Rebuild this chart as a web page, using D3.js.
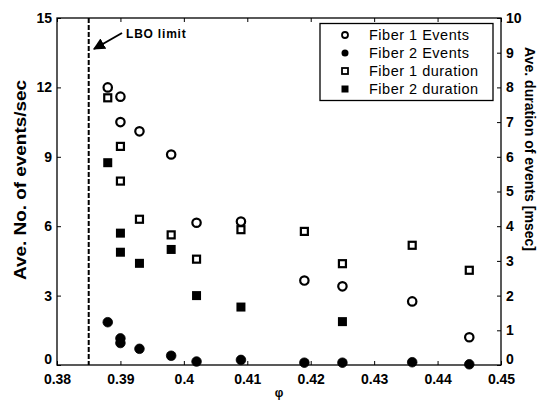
<!DOCTYPE html>
<html><head><meta charset="utf-8">
<script src="https://cdn.jsdelivr.net/npm/d3@7"></script>
<style>body{margin:0;background:#fff;} svg{display:block;font-family:"Liberation Sans",Arial,sans-serif;}</style>
</head><body>
<script>
// Data (x = phi)
const f1EventsX = [0.388,0.39,0.39,0.393,0.398,0.402,0.409,0.419,0.425,0.436,0.445];
const f1EventsY = [12.0,11.6,10.5,10.1,9.1,6.15,6.2,3.65,3.4,2.75,1.2];
const f2EventsX = [0.388,0.39,0.39,0.393,0.398,0.402,0.409,0.419,0.425,0.436,0.445];
const f2EventsY = [1.85,1.15,0.95,0.7,0.4,0.15,0.22,0.1,0.1,0.12,0.03];
const f1DurX = [0.388,0.39,0.39,0.393,0.398,0.402,0.409,0.419,0.425,0.436,0.445];
const f1DurY = [7.7,6.3,5.3,4.2,3.75,3.05,3.9,3.85,2.92,3.45,2.73];
const f2DurX = [0.388,0.39,0.39,0.393,0.398,0.402,0.409,0.425];
const f2DurY = [5.83,3.8,3.25,2.93,3.33,2.0,1.67,1.25];
const xTicks = [0.38,0.39,0.40,0.41,0.42,0.43,0.44,0.45];
const xTickLabels = ["0.38","0.39","0.4","0.41","0.42","0.43","0.44","0.45"];
const yLeftTicks = [0,3,6,9,12,15];
const yRightTicks = [0,1,2,3,4,5,6,7,8,9,10];
const lboLimit = 0.385;
const legendLabels = ["Fiber 1 Events","Fiber 2 Events","Fiber 1 duration","Fiber 2 duration"];

const W=539,H=402;
const m={l:57,r:501,t:18,b:365};
const svg=d3.select("body").append("svg").attr("width",W).attr("height",H);
const x=d3.scaleLinear().domain([0.38,0.45]).range([m.l,m.r]);
const yL=d3.scaleLinear().domain([0,15]).range([m.b,m.t]);
const yR=d3.scaleLinear().domain([0,10]).range([m.b,m.t]);

// frame
svg.append("rect").attr("x",m.l).attr("y",m.t).attr("width",m.r-m.l).attr("height",m.b-m.t)
  .attr("fill","none").attr("stroke","#000").attr("stroke-width",1.3);

const tickFont = g=>g.selectAll("text").attr("font-size",14).attr("font-weight","bold").attr("fill","#000")
  .attr("font-family","'Liberation Sans',Arial,sans-serif");

// bottom axis (inward ticks)
const gx=svg.append("g").attr("transform",`translate(0,${m.b})`)
  .call(d3.axisBottom(x).tickValues(xTicks).tickFormat((d,i)=>xTickLabels[i]).tickSizeInner(-4).tickSizeOuter(0).tickPadding(9));
gx.select(".domain").remove(); tickFont(gx);
const gxt=svg.append("g").attr("transform",`translate(0,${m.t})`)
  .call(d3.axisTop(x).tickValues(xTicks).tickFormat("").tickSizeInner(-4).tickSizeOuter(0));
gxt.select(".domain").remove();

const gl=svg.append("g").attr("transform",`translate(${m.l},0)`)
  .call(d3.axisLeft(yL).tickValues(yLeftTicks).tickSizeInner(-4).tickSizeOuter(0).tickPadding(8));
gl.select(".domain").remove(); tickFont(gl);
gl.selectAll("text").attr("dx",3).filter(d=>d===0).attr("y",-6);
const gr=svg.append("g").attr("transform",`translate(${m.r},0)`)
  .call(d3.axisRight(yR).tickValues(yRightTicks).tickSizeInner(-4).tickSizeOuter(0).tickPadding(8));
gr.select(".domain").remove(); tickFont(gr);
gr.selectAll("text").attr("dx",-3).filter(d=>d===0).attr("y",-6);

// axis titles
svg.append("text").attr("transform",`translate(26,180) rotate(-90)`).attr("text-anchor","middle")
  .attr("font-size",16).attr("font-weight","bold").attr("textLength",200).attr("lengthAdjust","spacingAndGlyphs")
  .text("Ave. No. of events/sec");
svg.append("text").attr("transform",`translate(525,149) rotate(90)`).attr("text-anchor","middle")
  .attr("font-size",14.5).attr("font-weight","bold").attr("textLength",204).attr("lengthAdjust","spacingAndGlyphs")
  .text("Ave. duration of events [msec]");
svg.append("text").attr("x",279).attr("y",397).attr("text-anchor","middle")
  .attr("font-size",12).attr("font-weight","bold").text("φ");

// LBO limit line
svg.append("line").attr("x1",x(lboLimit)).attr("x2",x(lboLimit)).attr("y1",m.t).attr("y2",m.b)
  .attr("stroke","#000").attr("stroke-width",2).attr("stroke-dasharray","5,2");
svg.append("defs").append("marker").attr("id","ah").attr("viewBox","0 0 10 10").attr("refX",9).attr("refY",5)
  .attr("markerWidth",6).attr("markerHeight",6).attr("orient","auto")
  .append("path").attr("d","M0,0L10,5L0,10z").attr("fill","#000");
svg.append("line").attr("x1",122).attr("y1",33).attr("x2",94).attr("y2",49)
  .attr("stroke","#000").attr("stroke-width",2).attr("marker-end","url(#ah)");
svg.append("text").attr("x",126).attr("y",38).attr("font-size",12).attr("font-weight","bold")
  .attr("letter-spacing",0.8).text("LBO limit");

// markers
function circles(xs,ys,ys_scale,filled){
  svg.append("g").selectAll("circle").data(xs).join("circle")
    .attr("cx",(d)=>x(d)).attr("cy",(d,i)=>ys_scale(ys[i]))
    .attr("r",filled?4.8:4.2).attr("fill",filled?"#000":"#fff").attr("stroke","#000").attr("stroke-width",filled?0.8:2.2);
}
function squares(xs,ys,ys_scale,filled){
  const s=9;
  svg.append("g").selectAll("rect").data(xs).join("rect")
    .attr("x",(d)=>x(d)-s/2+ (filled?0:1)).attr("y",(d,i)=>ys_scale(ys[i])-s/2+(filled?0:1))
    .attr("width",filled?s:s-2).attr("height",filled?s:s-2)
    .attr("fill",filled?"#000":"#fff").attr("stroke","#000").attr("stroke-width",filled?0:2.2);
}
squares(f1DurX,f1DurY,yR,false);
squares(f2DurX,f2DurY,yR,true);
circles(f1EventsX,f1EventsY,yL,false);
circles(f2EventsX,f2EventsY,yL,true);

// legend
const lg=svg.append("g");
lg.append("rect").attr("x",320).attr("y",23.5).attr("width",173).attr("height",77)
  .attr("fill","#fff").attr("stroke","#000").attr("stroke-width",1.3);
legendLabels.forEach((t,i)=>{
  const cy=35+i*18, cx=345;
  if(i===0) lg.append("circle").attr("cx",cx).attr("cy",cy).attr("r",3).attr("fill","#fff").attr("stroke","#000").attr("stroke-width",1.8);
  if(i===1) lg.append("circle").attr("cx",cx).attr("cy",cy).attr("r",3.5).attr("fill","#000");
  if(i===2) lg.append("rect").attr("x",cx-3).attr("y",cy-3).attr("width",6).attr("height",6).attr("fill","#fff").attr("stroke","#000").attr("stroke-width",1.8);
  if(i===3) lg.append("rect").attr("x",cx-3.5).attr("y",cy-3.5).attr("width",7).attr("height",7).attr("fill","#000");
  lg.append("text").attr("x",369).attr("y",cy+5).attr("font-size",14.5).attr("letter-spacing",0.5).text(t);
});
</script>
</body></html>
